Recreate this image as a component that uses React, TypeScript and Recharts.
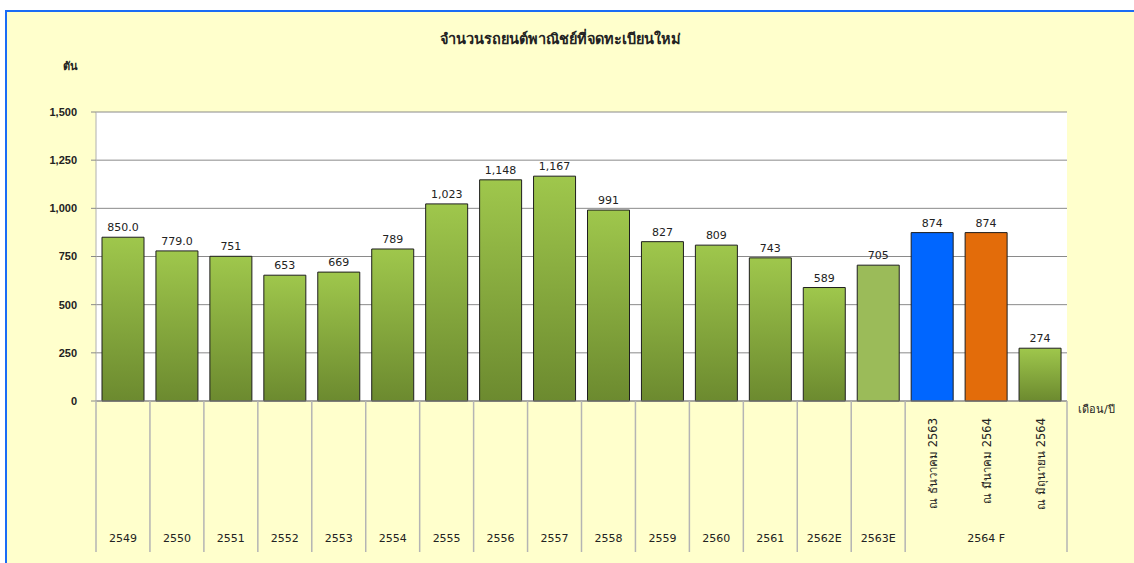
import React from 'react';
import { BarChart, Bar, XAxis, YAxis, CartesianGrid, Cell, LabelList } from 'recharts';

const categories = ['2549', '2550', '2551', '2552', '2553', '2554', '2555', '2556', '2557', '2558', '2559', '2560', '2561', '2562E', '2563E', 'ณ ธันวาคม 2563', 'ณ มีนาคม 2564', 'ณ มิถุนายน 2564'];
const values = [850.0, 779.0, 751, 653, 669, 789, 1023, 1148, 1167, 991, 827, 809, 743, 589, 705, 874, 874, 274];
const valueLabels = ['850.0', '779.0', '751', '653', '669', '789', '1,023', '1,148', '1,167', '991', '827', '809', '743', '589', '705', '874', '874', '274'];
const barKinds = ['g', 'g', 'g', 'g', 'g', 'g', 'g', 'g', 'g', 'g', 'g', 'g', 'g', 'g', 'light', 'blue', 'orange', 'g'];
const yTicks = [0, 250, 500, 750, 1000, 1250, 1500];
const groupLabel = '2564 F';
const groupStart = 15;
const groupMid = 16;

const title = 'จำนวนรถยนต์พาณิชย์ที่จดทะเบียนใหม่';
const unitLabel = 'ตัน';
const xUnitLabel = 'เดือน/ปี';

const kindFill: Record<string, string> = {
  g: 'url(#greenGrad)',
  light: '#9BBB59',
  blue: '#0066FF',
  orange: '#E36C0A',
};

const data = categories.map((c, i) => ({ name: c, value: values[i], label: valueLabels[i], kind: barKinds[i] }));

const FONT = "Tahoma, 'DejaVu Sans', 'Noto Sans', sans-serif";
const NUMFONT = "Tahoma, 'Liberation Sans', 'DejaVu Sans', sans-serif";
const SEP = '#b4b4b4';

const XTick = (props: any) => {
  const { x, y, index, payload } = props;
  const half = payload.offset || 0;
  const n = categories.length;
  const lineH = 151;
  const els: any[] = [];
  if (index <= groupStart) {
    els.push(<line key="l" x1={x - half} x2={x - half} y1={y} y2={y + lineH} stroke={SEP} strokeWidth={1.5} />);
  }
  if (index === n - 1) {
    els.push(<line key="r" x1={x + half} x2={x + half} y1={y} y2={y + lineH} stroke={SEP} strokeWidth={1.5} />);
  }
  if (index < groupStart) {
    els.push(
      <text key="t" x={x} y={y + 137} textAnchor="middle" dy="0.35em" fontSize={11} fill="#222" fontFamily={FONT}>
        {payload.value}
      </text>
    );
  } else {
    els.push(
      <text key="t" transform={`translate(${x + 1}, ${y + 17}) rotate(-90)`} textAnchor="end" dy="0.35em" fontSize={11.5} fill="#222" fontFamily={FONT}>
        {payload.value}
      </text>
    );
    if (index === groupMid) {
      els.push(
        <text key="g" x={x} y={y + 137} textAnchor="middle" dy="0.35em" fontSize={11} fill="#222" fontFamily={FONT}>
          {groupLabel}
        </text>
      );
    }
  }
  return <g>{els}</g>;
};

export default function App() {
  return (
    <div style={{ position: 'absolute', left: 0, top: 0, width: 1134, height: 563, background: '#ffffff', overflow: 'hidden' }}>
      <div
        style={{
          position: 'absolute',
          left: 5,
          top: 10,
          width: 1129,
          height: 553,
          background: '#FFFFCC',
          borderTop: '2px solid #1a6cf5',
          borderLeft: '2px solid #1a6cf5',
          boxSizing: 'border-box',
        }}
      />
      <div style={{ position: 'absolute', left: 0, top: 0 }}>
        <BarChart width={1134} height={563} data={data} margin={{ top: 112, right: 67, bottom: 11, left: 36 }} barSize={42}>
          <defs>
            <linearGradient id="greenGrad" x1="0" y1="0" x2="0" y2="1">
              <stop offset="0%" stopColor="#9FC74C" />
              <stop offset="100%" stopColor="#6C8A2F" />
            </linearGradient>
          </defs>
          <CartesianGrid vertical={false} stroke="#8a8a8a" fill="#ffffff" />
          <XAxis
            dataKey="name"
            interval={0}
            height={151}
            tickSize={0}
            tickMargin={0}
            tickLine={false}
            axisLine={{ stroke: '#8a8a8a' }}
            tick={<XTick />}
          />
          <YAxis
            width={60}
            domain={[0, 1500]}
            ticks={yTicks}
            interval={0}
            tickSize={5}
            tickMargin={14}
            axisLine={{ stroke: '#b0b0b0' }}
            tickLine={{ stroke: '#8a8a8a' }}
            tick={{ fontSize: 11, fill: '#222', fontFamily: NUMFONT, fontWeight: 'bold' }}
            tickFormatter={(v: number) => v.toLocaleString('en-US')}
          />
          <Bar dataKey="value" isAnimationActive={false} stroke="#1e1e1e" strokeWidth={1}>
            {data.map((d, i) => (
              <Cell key={i} fill={kindFill[d.kind]} />
            ))}
            <LabelList dataKey="label" position="top" offset={6} style={{ fontSize: 11, fill: '#222', fontFamily: FONT }} />
          </Bar>
        </BarChart>
      </div>
      <div style={{ position: 'absolute', left: 0, width: 1120, top: 27, textAlign: 'center', fontFamily: FONT, fontSize: 14.5, fontWeight: 'bold', color: '#222' }}>
        {title}
      </div>
      <div style={{ position: 'absolute', left: 63, top: 57, fontFamily: FONT, fontSize: 11, fontWeight: 'bold', color: '#222' }}>
        {unitLabel}
      </div>
      <div style={{ position: 'absolute', left: 1078, top: 400, fontFamily: FONT, fontSize: 11, color: '#222' }}>
        {xUnitLabel}
      </div>
    </div>
  );
}
